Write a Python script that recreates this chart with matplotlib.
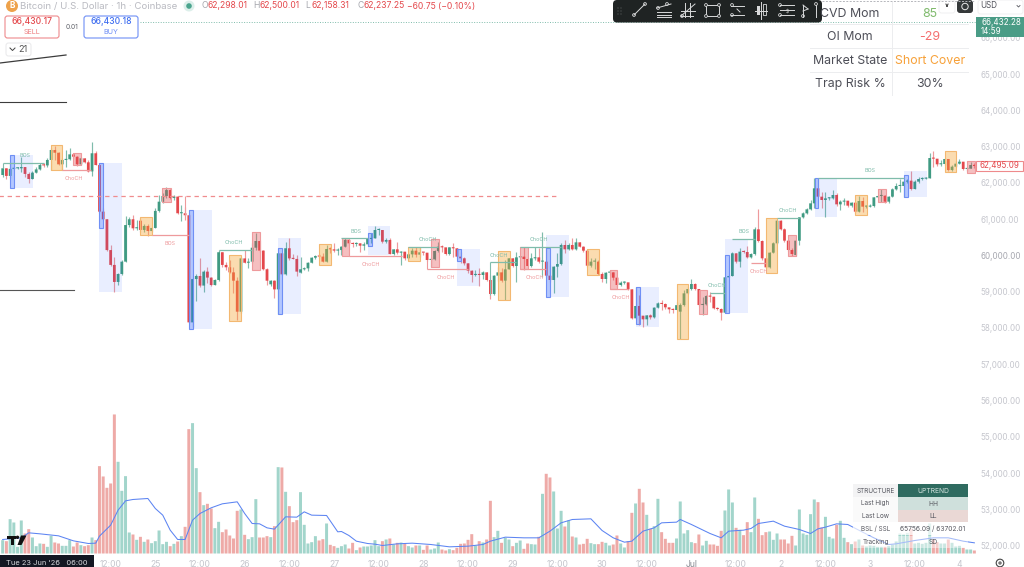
import matplotlib
matplotlib.use('Agg')
import matplotlib.pyplot as plt
from matplotlib.patches import Rectangle, FancyBboxPatch, Circle
import numpy as np

plt.rcParams['font.family'] = ['Inter', 'DejaVu Sans']

first_open = 62220
closes = [62405,62195,62390,62405,62405,62440,62250,62110,62285,62375,62495,62485,62635,62910,62835,62515,62635,62655,62790,62725,
    62515,62680,62570,62320,62820,62495,61210,61000,60150,59740,59270,59490,59830,60840,61000,60750,60770,60705,60815,60675,
    60760,61230,61485,61640,61805,61585,61625,61165,61165,61110,58155,59350,59435,59170,59555,59390,59185,59325,60090,59740,
    59675,59535,59305,58450,59920,59800,59830,60215,60400,60135,59620,59305,59305,59065,60060,59480,60200,59920,59905,59555,
    59620,59645,59800,59940,59985,59970,59830,60180,60170,60135,60150,
    60243,60428,60335,60317,60335,60271,60308,60455,60473,60703,60703,60381,60428,60041,60170,60078,60106,59922,60032,60133,
    60023,60087,60078,59876,59894,60124,60243,60225,60041,60225,60198,59968,59922,59784,59581,59462,59490,59462,59535,59324,
    58938,59444,59535,59306,59618,59922,59710,59949,59968,59903,59710,59922,59949,59830,59830,59444,59324,59692,59765,60290,
    60170,60290,60170,60363,60243,60133,59719,59830,59830,59490,59352,59526,59535,59388,59186,59250,59260,59067,58267,58607,
    58340,58239,58349,58294,58561,58680,58662,58570,58515,58497,58630,
    58634,58956,59076,59214,59076,58634,58653,58883,58864,58543,58524,58423,59398,59434,60060,59830,60106,60096,59949,60041,
    60722,60400,59922,59673,60078,60336,60961,60722,60409,60152,60041,60409,61053,61163,61273,61439,61853,61623,61531,61577,
    61577,61669,61411,61485,61513,61375,61457,61209,61503,61347,61347,61365,61604,61641,61650,61485,61623,61825,61917,61917,
    62037,62064,61834,62037,62110,62119,62129,62689,62671,62515,62524,62662,62358,62450,62533,62588,62386,62395,62496,62469]
highs = [62450,62425,62540,62470,62430,62725,62450,62310,62340,62430,62540,62560,62680,62955,63020,62865,62680,62910,62955,62820,
    62745,62725,62700,62635,63140,62885,62540,61300,61000,60290,59970,59510,59880,61090,61050,61115,60980,61025,60870,60870,
    60795,61300,61670,61715,61880,61825,61670,61640,61395,61350,61165,59370,59490,59920,59600,59675,59420,59340,60150,60105,
    59830,59875,59690,59420,59970,60150,59920,60335,60630,60425,60150,59645,59325,59325,60080,60080,60380,60475,60040,60015,
    59970,59690,59830,59970,60005,60040,60080,60290,60245,60335,60200,
    60262,60473,60446,60381,60381,60335,60381,60473,60611,60814,60749,60703,60473,60473,60188,60363,60133,60106,60060,60198,
    60225,60243,60106,60032,59968,60152,60381,60290,60170,60243,60335,60198,60106,59968,59802,59600,59600,59646,59581,59554,
    59462,59462,59692,59646,59876,59940,59940,60106,59986,60225,59922,60078,60225,60198,60657,60225,59738,59710,60060,60335,
    60428,60335,60473,60473,60381,60262,60152,59922,59940,59876,59554,59545,59600,59554,59416,59306,59306,59232,59067,59140,
    58910,58331,58359,58386,58570,58708,58772,58680,58561,58561,58726,
    58680,59048,59140,59342,59232,59048,58864,58910,59002,58864,58588,58543,59416,59462,60106,60078,60198,60152,60262,60060,
    60777,61273,60428,59922,60106,60381,60979,60979,60749,60428,60198,60428,61071,61209,61301,61531,62129,62129,61761,61761,
    61623,61807,61715,61531,61577,61513,61485,61485,61641,61623,61393,61411,61623,61669,61825,61669,61641,61853,61991,62101,
    62083,62101,62340,62083,62156,62175,62175,62837,62892,62653,62634,62680,62662,62496,62616,62653,62588,62450,62588,62542]
lows = [62175,62100,62130,62375,62375,62310,62175,61990,62100,62265,62360,62430,62450,62360,62635,62495,62360,62430,62635,62680,
    62470,62495,62540,62310,62195,62495,61165,60980,60130,59710,59000,59190,59460,59830,60795,60705,60705,60660,60660,60540,
    60650,60750,61210,61460,61575,61550,61530,61145,60960,60980,58130,58035,58755,59140,59000,59230,59160,59175,59305,59690,
    59600,59510,58955,58220,58425,59785,59645,59800,60150,60105,59600,59185,59170,58820,58385,59460,59460,59875,59895,59435,
    59510,59600,59580,59785,59910,59940,59810,59810,60080,60105,60015,
    60014,60225,60290,60243,60262,60106,60152,60262,60335,60473,60565,60335,60335,60032,60014,60032,59738,59876,59876,59968,
    59968,59968,60014,59857,59692,59876,60106,60106,60014,60014,59968,59922,59784,59738,59508,59278,59434,59159,59342,59306,
    58791,58910,59306,59278,58772,59618,59692,59278,59922,59600,59673,59692,59876,59784,59416,59416,59278,58956,59416,59738,
    60060,60152,60152,60152,60225,60106,59673,59673,59618,59462,59278,59250,59462,59324,59140,59159,59214,59048,58239,58239,
    58083,58018,58083,58239,58267,58542,58497,58515,58423,58423,58497,
    57687,58616,58938,59048,59048,58616,58359,58634,58726,58524,58496,58221,58405,59398,59434,59784,59692,60060,59922,59922,
    60014,60382,59876,59646,59646,60060,60317,60703,60382,60133,59995,59995,60290,61043,61145,61255,61301,61604,61301,61053,
    61531,61549,61375,61255,61393,61347,61347,61181,61191,61209,61301,61329,61329,61604,61467,61457,61439,61604,61807,61761,
    61604,62009,61807,61825,62009,62083,62101,62129,62450,62469,62469,62496,62331,62340,62432,62524,62358,62340,62405,62405]
# bars whose open is away from the previous close
gap_opens = {37: 60960, 72: 59205, 80: 59527, 182: 58451, 213: 60014}

volumes = [40,37,103,93,20,99,60,73,48,22,30,29,20,53,33,30,23,23,40,21,33,25,22,25,48,40,262,231,197,210,417,275,188,232,63,57,41,50,35,42,
    31,37,69,28,35,22,29,36,52,80,373,391,256,184,145,149,135,76,95,64,72,54,45,128,132,56,43,49,163,48,48,52,49,82,259,258,185,142,94,100,
    184,86,30,34,52,39,43,90,26,22,17,
    22,27,15,32,10,18,21,21,24,40,22,37,42,45,27,32,33,30,22,18,24,24,11,24,12,15,33,12,9,13,10,17,29,30,41,58,24,37,33,42,
    158,49,68,32,47,42,22,32,39,14,30,28,27,50,179,239,228,186,75,128,81,99,51,48,27,29,44,31,28,28,35,32,24,27,54,30,18,37,122,150,
    194,153,116,74,82,164,64,44,32,32,45,
    156,60,70,34,31,57,24,38,27,27,23,68,129,192,153,77,71,55,94,64,168,104,55,64,66,41,60,42,42,30,53,24,132,60,56,118,162,154,78,110,
    50,45,86,98,47,34,28,36,42,24,21,24,23,20,20,20,22,27,36,60,58,62,74,30,32,29,32,90,42,34,30,30,42,32,21,23,17,12,12,9]
ma_bars = [0,5,7,10,15,19,23,25,26,29,31,33,35,39,41,43,45,47,49,51,53,56,59,63,65,67,69,71,73,76,79,81,83,87,90,
    91,93,95,98,100,102,106,110,115,120,125,129,131,135,140,144,147,150,153,158,161,164,167,169,172,175,177,181,
    182,185,190,193,195,199,201,203,207,210,214,217,219,221,224,227,231,234,238,240,245,250,254,258,261]
ma_values = [42,47,62,59,53,38,30,31,52,85,130,158,162,165,135,115,70,42,42,100,120,137,149,155,120,90,89,77,73,110,109,125,115,114,65,
    66,54,37,30,28,24,29,31,27,20,22,27,37,49,47,47,67,92,102,104,69,47,34,37,67,77,92,94,
    102,87,60,47,67,70,75,90,97,82,72,60,74,79,89,87,64,47,27,29,39,47,47,37,32]

# (first bar, last bar, top price, bottom price, sliver top, sliver bottom)
blue_zones = [(1.97,8.06,62772,61853,62772,61853),(25.96,32.05,62542,59000,62542,60768),(50,56.1,61255,57973,61255,57973),
    (74,80.1,60474,58386,60198,58386),(98.07,104.16,60814,60014,60611,60271),(122.07,128.15,60179,59159,60179,59857),
    (146.06,152.15,60565,58864,60198,58864),(170.14,176.2,59140,58037,59140,58101),(194.09,200.17,60455,58423,60014,58423),
    (218.08,224.17,62129,61062,62129,61301),(242.16,248.25,62331,61604,62220,61604)]
orange_zones = [(12.98,16.03,63039,62359),(36.97,40.1,61053,60556),(60.9,64.1,60014,58202),(85.05,88.1,60308,59747),
    (109,112.1,60243,59857),(133.08,136.2,60115,58772),(157.07,160.3,60170,59462),(181,184.2,59214,57687),
    (205,208.1,61044,59508),(229,232.2,61660,61126),(253.2,256.2,62873,62312)]
pink_zones = [(19,21.04,62818,62487),(42.9,45.1,61853,61476),(67.05,69.02,60639,59591),(91.1,93.15,60473,59986),
    (115.08,117.14,60446,59692),(139.07,141.1,60225,59618),(163.16,165.13,59600,59067),(187.1,189.07,59048,58377),
    (211,213.2,60556,59995),(235.2,237.15,61825,61467),(259.1,261.1,62616,62267)]

# (name, colour key, first bar, last bar, level, label bar, label price)
structure = [('BOS','g',0,11,62542,6,62745),('ChoCH','r',16,23.6,62359,19,62120),('BOS','r',40.1,50,60556,45,60320),
    ('ChoCH','g',58,67,60143,62,60345),('BOS','g',91,98,60473,94.9,60650),('ChoCH','r',93,107.3,59986,99,59755),
    ('ChoCH','g',109,117,60243,114.1,60430),('ChoCH','r',114,125,59637,119.1,59405),('ChoCH','g',131,138,59811,133.2,60005),
    ('ChoCH','g',139,150,60225,144,60430),('ChoCH','r',139,146,59618,143,59390),('ChoCH','r',163,168,59067,166,58840),
    ('ChoCH','g',190,194,58975,191.8,59180),('BOS','g',196,202,60455,199,60660),('ChoCH','r',201,205,59784,203,59545),
    ('ChoCH','g',208,214,61044,211,61235),('BOS','g',219,242,62129,233,62340)]

price_ticks = [66000,65000,64000,63000,62000,61000,60000,59000,58000,57000,56000,55000,54000,53000,52000]
time_ticks = [29,41,53,65,77,89,101,113,125,137,149,161,173,185,197,209,221,233,245,257]
time_labels = ['12:00','25','12:00','26','12:00','27','12:00','28','12:00','29','12:00','30','12:00','Jul','12:00','2','12:00','3','12:00','4']

dash_level = 61628
last_price = 66432.28
hover_price = 62495.09

RED = '#e4484c'
GREEN = '#3f9a82'
GRAY = '#c5c6cd'

closes = np.array(closes, float)
highs = np.array(highs, float)
lows = np.array(lows, float)
opens = np.r_[first_open, closes[:-1]]
for k in gap_opens:
    opens[k] = gap_opens[k]
bars = np.arange(len(closes))
up = closes >= opens

fig = plt.figure(figsize=(10.24, 5.67), dpi=100)
box = [0, 12/567, 976/1024, 555/567]

# volume pane sits behind, same box as price
vol_ax = fig.add_axes(box)
vol_bars = vol_ax.bar(bars, volumes, width=0.8, color=np.where(up, '#a2d5cb', '#eeaaa7'), linewidth=0)
for b in vol_bars:
    b.set_snap(False)
vol_ax.plot(ma_bars, ma_values, color='#5c84f2', lw=0.75)
vol_ax.set_xlim(-0.717, 261.44)
vol_ax.set_ylim(-4.5, 1660)
vol_ax.axis('off')

ax = fig.add_axes(box)
ax.patch.set_alpha(0)
ax.set_xlim(-0.717, 261.44)
ax.set_ylim(51738, 67048)
for s in ax.spines.values():
    s.set_visible(False)

ax.vlines(bars, lows, highs, color=np.where(up, '#7fbcab', '#ee9a9c'), lw=0.85, zorder=2)
body_low = np.minimum(opens, closes)
body_h = np.maximum(np.abs(closes - opens), 30)
bodies = ax.bar(bars, body_h, bottom=body_low, width=0.74, color=np.where(up, GREEN, RED), linewidth=0, zorder=3)
for b in bodies:
    b.set_snap(False)

for x0, x1, top, bot, s_top, s_bot in blue_zones:
    ax.add_patch(Rectangle((x0, bot), x1-x0, top-bot, fc='#2962ff', alpha=0.1, lw=0, zorder=4))
    ax.add_patch(Rectangle((x0, s_bot), 1, s_top-s_bot, fc='#2962ff', alpha=0.28, lw=0, zorder=4))
    ax.add_patch(Rectangle((x0, s_bot), 1, s_top-s_bot, fill=False, ec='#6f8ff5', lw=0.8, zorder=4))
for x0, x1, top, bot in orange_zones:
    ax.add_patch(Rectangle((x0, bot), x1-x0, top-bot, fc='#f5a431', alpha=0.38, lw=0, zorder=4))
    ax.add_patch(Rectangle((x0, bot), x1-x0, top-bot, fill=False, ec='#f3b871', lw=0.8, zorder=4))
for x0, x1, top, bot in pink_zones:
    ax.add_patch(Rectangle((x0, bot), x1-x0, top-bot, fc='#e4484c', alpha=0.35, lw=0, zorder=4))
    ax.add_patch(Rectangle((x0, bot), x1-x0, top-bot, fill=False, ec='#ee9a9c', lw=0.8, zorder=4))

for name, key, x0, x1, level, lx, ly in structure:
    col = '#7fbcab' if key == 'g' else '#ee9a9c'
    ax.hlines(level, x0, x1, color=col, lw=0.9, zorder=5)
    ax.text(lx, ly, name, color=col, fontsize=3.9, ha='center', va='center', zorder=6)
ax.vlines(0, 62400, 62542, color='#7fbcab', lw=0.8, zorder=5)
ax.vlines(114, 59637, 59880, color='#ee9a9c', lw=0.8, zorder=5)
ax.vlines(131, 58900, 59811, color='#7fbcab', lw=0.8, zorder=5)
ax.vlines(49, 61100, dash_level, color='#ee9a9c', lw=0.8, zorder=5)

ax.hlines(dash_level, -1, 149.3, color='#f08c8e', lw=0.9, linestyles=(0, (3.5, 3)), zorder=5)
ax.hlines(last_price, 37, 262, color='#7fbcab', lw=0.7, linestyles=(0, (1, 1.6)), zorder=1)

ax.yaxis.tick_right()
ax.set_yticks(price_ticks)
ax.set_yticklabels([f'{p:,.2f}' for p in price_ticks], fontsize=5.8, color=GRAY)
ax.get_yticklabels()[6].set_color('#a6a7af')
ax.tick_params(axis='y', length=0, pad=3.4)
ax.set_xticks(time_ticks)
ax.set_xticklabels(time_labels, fontsize=6.2, color=GRAY)
ax.tick_params(axis='x', length=0, pad=3.6)
ax.get_xticklabels()[13].set_color('#8a8b93')

# screen furniture, in pixels
ui = fig.add_axes([0, 0, 1, 1], zorder=10)
ui.set_xlim(0, 1024)
ui.set_ylim(567, 0)
ui.axis('off')
ui.patch.set_alpha(0)

def pill(x0, y0, x1, y1, fc, ec='none', r=2.5, lw=0.8, alpha=1):
    ui.add_patch(FancyBboxPatch((x0+r, y0+r), x1-x0-2*r, y1-y0-2*r, boxstyle=f'round,pad={r},rounding_size={r}',
                                fc=fc, ec=ec, lw=lw, alpha=alpha))

def txt(x, y, s, color='#555', size=6, ha='center', **kw):
    ui.text(x, y, s, color=color, fontsize=size, ha=ha, va='center', **kw)

# header
ui.add_patch(Circle((12, 6), 6, fc='#eea24b', ec='none'))
txt(12, 6, 'B', '#ffffff', 6, weight='bold')
txt(20, 6, 'Bitcoin / U.S. Dollar · 1h · Coinbase', '#b9bac1', 6.95, ha='left')
ui.add_patch(Circle((189, 6), 5.5, fc='#dcefea', ec='none'))
ui.add_patch(Circle((189, 6), 2.8, fc='#4ba58e', ec='none'))
for x, lab, val in [(201, 'O', '62,298.01'), (253, 'H', '62,500.01'), (305, 'L', '62,158.31'), (357, 'C', '62,237.25')]:
    txt(x, 6, lab, '#a5a6ad', 6.2, ha='left')
    txt(x+7, 6, val, RED, 6.2, ha='left')
txt(407, 6, '−60.75 (−0.10%)', RED, 6.2, ha='left')

# order buttons
pill(5, 16, 59, 38, '#ffffff', '#ee8a8c')
txt(32, 22, '66,430.17', RED, 6.2, weight='medium')
txt(32, 31.5, 'SELL', '#ee7b7e', 5.2)
txt(72, 27, '0.01', '#60626a', 4.8)
pill(84, 16, 138, 38, '#ffffff', '#6f8ff5')
txt(111, 22, '66,430.18', '#3f6ef0', 6.2, weight='medium')
txt(111, 31.5, 'BUY', '#6f8ff5', 5.2)
pill(6, 43, 31, 56, '#ffffff', '#e8e8ea', lw=0.7)
ui.plot([10, 12.5, 15], [48, 50.5, 48], color='#444', lw=0.7)
txt(23, 49.5, '21', '#555', 6.6)

# leftover drawings on the left edge
ui.plot([0, 66], [63, 55], color='#3c3c3c', lw=0.9)
ui.plot([0, 66], [102, 102], color='#3c3c3c', lw=0.8)
ui.plot([0, 74], [290, 290], color='#555555', lw=0.8)

# table top right
for y in [24, 48, 72]:
    ui.plot([810, 968], [y, y], color='#ecedef', lw=0.7)
ui.plot([891.7, 891.7], [2, 95], color='#ecedef', lw=0.7)
rows = ['CVD Mom', 'OI Mom', 'Market State', 'Trap Risk %']
vals = ['85', '-29', 'Short Cover', '30%']
val_cols = ['#7fba6c', '#f46e6e', '#f7a139', '#4d4e57']
for y, r, v, c in zip([14, 37, 60.5, 84], rows, vals, val_cols):
    txt(850, y, r, '#4d4e57', 8.9)
    txt(930, y, v, c, 8.9)

# toolbar
pill(613, 0, 822, 22.5, '#1f2323', r=4)
for x in [618, 621]:
    for y in [8, 11, 14]:
        ui.add_patch(Circle((x, y), 0.6, fc='#5a5e5e', ec='none'))
ic = '#d8d9da'
def node(x, y):
    ui.add_patch(Circle((x, y), 1.4, fc='#1f2323', ec=ic, lw=0.6))
def seg(xs, ys):
    ui.plot(xs, ys, color=ic, lw=0.7)
seg([634, 645], [15, 4]); node(634, 15); node(645, 4)
seg([657, 671], [8, 4]); seg([657, 671], [12, 12]); seg([657, 671], [14.5, 14.5]); seg([657, 671], [17, 17]); node(658, 8); node(667, 4)
seg([681, 695], [16, 4]); seg([681, 695], [11, 11]); seg([685, 685], [3, 17]); seg([690, 690], [3, 17]); seg([681, 693], [16, 16]); node(682, 16)
ui.add_patch(Rectangle((706, 5), 13, 11, fill=False, ec=ic, lw=0.7))
for a, b in [(706, 5), (719, 5), (706, 16), (719, 16)]:
    node(a, b)
seg([731, 744], [6, 6]); seg([731, 744], [15, 15]); seg([737, 740], [9, 12]); node(732, 5); node(732, 15)
seg([761, 761], [2, 19]); seg([755, 767], [11, 11]); ui.add_patch(Rectangle((757, 6), 2.6, 9, fc=ic, ec='none')); ui.add_patch(Rectangle((763, 4), 2.6, 11, fc='#1f2323', ec=ic, lw=0.6))
seg([780, 794], [5, 5]); seg([780, 794], [10, 10]); seg([780, 794], [15, 15]); node(780, 5); node(780, 15); txt(787, 12.5, '$', ic, 3.5)
seg([803, 803], [5, 17]); seg([803, 808], [5, 9]); seg([803, 808], [11, 9]); node(803, 16); seg([816, 816], [5, 17]); node(816, 4)

# top right buttons
ui.plot([822, 975], [0.6, 0.6], color='#b5b6bb', lw=0.7, linestyle=(0, (2, 1.5)))
pill(939, 0, 955, 13, '#ffffff', '#eeeeef', lw=0.6)
ui.annotate('', xy=(947, 10), xytext=(947, 3), arrowprops=dict(arrowstyle='->', color='#333', lw=0.7, mutation_scale=4))
pill(957, 0, 973, 13, '#35393a', r=3)
ui.add_patch(Circle((965, 6.5), 3.2, fill=False, ec='#e8e8e8', lw=0.7))
pill(978, 0, 1023, 14, '#ffffff', '#eeeeef', lw=0.6)
txt(980, 6, 'USD', '#55565e', 5.8, ha='left')
ui.plot([1017, 1018.5, 1020], [5.5, 7, 5.5], color='#55565e', lw=0.6)
ui.add_patch(Rectangle((976, 17), 47.5, 20, fc='#4a9c86', ec='none'))
txt(981, 22.3, '66,432.28', '#ffffff', 5.8, ha='left')
txt(981, 31.2, '14:59', '#ffffff', 5.8, ha='left')
ui.add_patch(Rectangle((976, 160.7), 46.7, 10, fc='#ffffff', ec='#ee8a8c', lw=0.8))
txt(999.5, 165.7, f'{hover_price:,.2f}', RED, 5.8)

# status table bottom right
col0, col1, col2 = 853.3, 897.7, 968.3
ys = [484.3, 497, 510, 522.7, 535.7, 548.3]
fills_l = ['#f3f3f4', '#fafafa', '#fafafa', '#ffffff', '#ffffff']
fills_r = ['#2f6b60', '#cfe0dc', '#ead8d5', '#ffffff', '#ffffff']
alphas = [1, 1, 1, 0.72, 0.45]
lefts = ['STRUCTURE', 'Last High', 'Last Low', 'BSL / SSL', 'Tracking']
rights = ['UPTREND', 'HH', 'LL', '65756.09 / 63702.01', 'SD']
for n in range(5):
    ui.add_patch(Rectangle((col0, ys[n]), col1-col0, ys[n+1]-ys[n]-0.5, fc=fills_l[n], ec='none', alpha=alphas[n]))
    ui.add_patch(Rectangle((col1, ys[n]), col2-col1, ys[n+1]-ys[n]-0.5, fc=fills_r[n], ec='none', alpha=alphas[n]))
    txt((col0+col1)/2, (ys[n]+ys[n+1])/2, lefts[n], '#55565e', 4.6)
    txt((col1+col2)/2, (ys[n]+ys[n+1])/2, rights[n], '#d8e6e2' if n == 0 else '#55565e', 4.8)

# crosshair time label and logo
ui.add_patch(Rectangle((0, 554.5), 93.5, 13, fc='#131722', ec='none'))
txt(6, 563, "Tue 23 Jun '26   06:00", '#d5d6da', 5.4, ha='left')
ui.add_patch(Rectangle((7, 535.5), 8.5, 3.2, fc='#111111', ec='none'))
ui.add_patch(Rectangle((10.5, 535.5), 3.2, 9.5, fc='#111111', ec='none'))
ui.add_patch(Circle((17.5, 537.3), 1.7, fc='#111111', ec='none'))
ui.fill([21, 26.5, 21.5, 17.5], [535.5, 535.5, 545, 545], color='#111111', lw=0)

# settings icon
ui.add_patch(Circle((1000, 563), 3.8, fill=False, ec='#444', lw=0.8))
ui.add_patch(Circle((1000, 563), 1.1, fill=False, ec='#444', lw=0.7))

fig.savefig('out.png', dpi=100)
